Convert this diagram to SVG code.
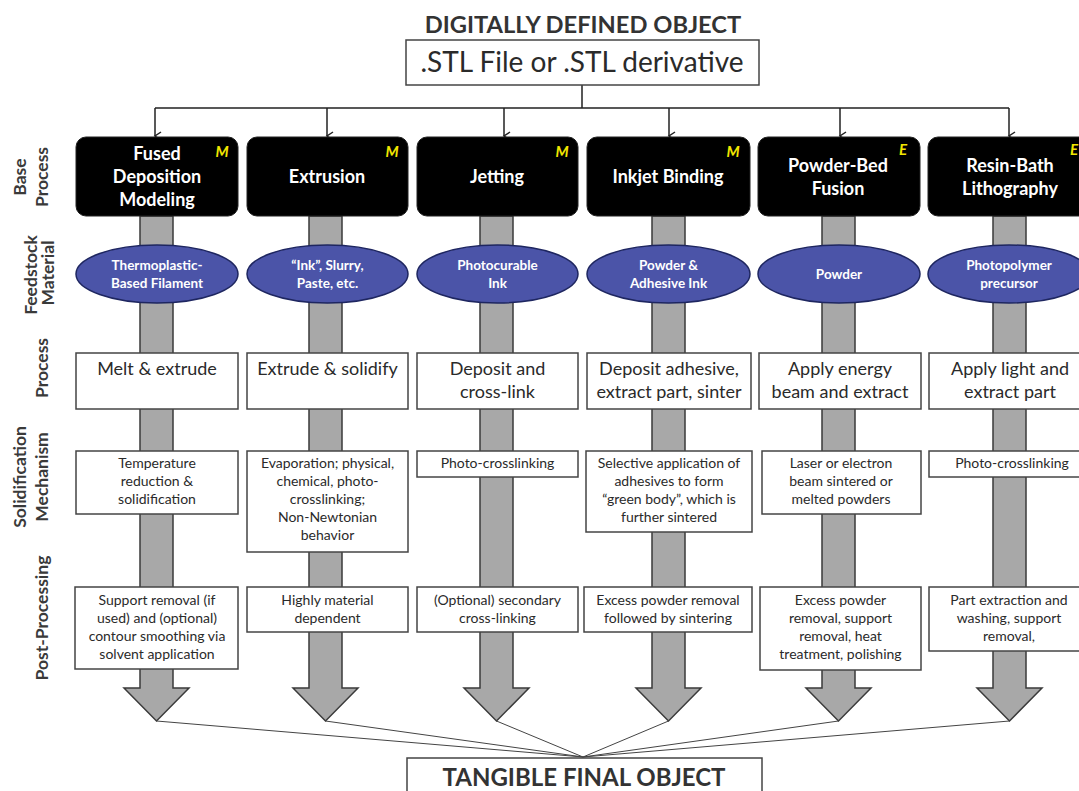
<svg xmlns="http://www.w3.org/2000/svg" width="1079" height="791" viewBox="0 0 1079 791">
<style>
text{font-family:Lato,"Open Sans",sans-serif;text-anchor:middle}
.title{font-weight:bold;font-size:23.7px;fill:#333}
.stl{font-size:28px;fill:#2a2a2a}
.base rect{fill:#000;stroke:#222;stroke-width:1}
.base text{fill:#fff;font-weight:bold;font-size:18px}
.base text.tag{fill:#f2e600;font-style:italic;font-size:15px}
.feed ellipse{fill:#4b54a8;stroke:#1e2660;stroke-width:1.5}
.feed text{fill:#fff;font-weight:bold;font-size:13.5px}
.box rect{fill:#fff;stroke:#444;stroke-width:1.5}
.proc text{fill:#2a2a2a;font-size:18px}
.small text{fill:#2a2a2a;font-size:14px}
.row{fill:#3a3a3a;font-weight:bold;font-size:17.5px}
.shaft{fill:#a8a8a8;stroke:#3a3a3a;stroke-width:1.5}
.thin{stroke:#444;stroke-width:1;fill:none}
.conn{stroke:#222;stroke-width:1.5;fill:none}
</style>
<defs>
<marker id="ah" markerWidth="10" markerHeight="10" refX="5" refY="8" orient="auto-start-reverse" markerUnits="userSpaceOnUse" viewBox="0 0 10 10">
<path d="M1,2 L5,8 L9,2" fill="none" stroke="#222" stroke-width="1.5"/>
</marker>
</defs>
<rect width="1079" height="791" fill="#fff"/>

<g id="row-labels">
<text class="row" transform="translate(26,177) rotate(-90)">Base</text>
<text class="row" transform="translate(48,177) rotate(-90)">Process</text>
<text class="row" transform="translate(37,275) rotate(-90)">Feedstock</text>
<text class="row" transform="translate(54,273) rotate(-90)">Material</text>
<text class="row" transform="translate(48,368) rotate(-90)">Process</text>
<text class="row" transform="translate(26,477) rotate(-90)">Solidification</text>
<text class="row" transform="translate(48,477) rotate(-90)">Mechanism</text>
<text class="row" transform="translate(48,618) rotate(-90)">Post-Processing</text>
</g>

<g id="connectors">
<path class="conn" d="M582,85 V108 M155,108 H1009"/>
<path class="conn" marker-end="url(#ah)" d="M155,108 V136"/>
<path class="conn" marker-end="url(#ah)" d="M327,108 V136"/>
<path class="conn" marker-end="url(#ah)" d="M504,108 V136"/>
<path class="conn" marker-end="url(#ah)" d="M669,108 V136"/>
<path class="conn" marker-end="url(#ah)" d="M840,108 V136"/>
<path class="conn" marker-end="url(#ah)" d="M1009,108 V136"/>
<polygon class="shaft" points="140,216 173,216 173,688 189,688 156.5,721 124,688 140,688"/>
<polygon class="shaft" points="309,216 342,216 342,688 358,688 325.5,721 293,688 309,688"/>
<polygon class="shaft" points="480,216 513,216 513,688 529,688 496.5,721 464,688 480,688"/>
<polygon class="shaft" points="652,216 685,216 685,688 701,688 668.5,721 636,688 652,688"/>
<polygon class="shaft" points="822,216 855,216 855,688 871,688 838.5,721 806,688 822,688"/>
<polygon class="shaft" points="993,216 1026,216 1026,688 1042,688 1009.5,721 977,688 993,688"/>
<path class="thin" d="M156.5,721 L583,757 M325.5,721 L583,757 M496.5,721 L583,757 M668.5,721 L583,757 M838.5,721 L583,757 M1009.5,721 L583,757"/>
</g>

<g id="digital-object">
<text class="title" x="583" y="33">DIGITALLY DEFINED OBJECT</text>
</g>
<g id="stl-file" class="box">
<rect x="406" y="40" width="353" height="45"/>
<text class="stl" x="582" y="72">.STL File or .STL derivative</text>
</g>

<!-- Base process -->
<g id="base-fdm" class="base">
<rect x="76" y="137" width="162" height="79" rx="10"/>
<text x="157" y="160">Fused</text><text x="157" y="183">Deposition</text><text x="157" y="206">Modeling</text>
<text class="tag" x="222" y="157">M</text>
</g>
<g id="base-extrusion" class="base">
<rect x="247" y="137" width="161" height="79" rx="10"/>
<text x="327" y="183">Extrusion</text>
<text class="tag" x="392" y="157">M</text>
</g>
<g id="base-jetting" class="base">
<rect x="417" y="137" width="161" height="79" rx="10"/>
<text x="497" y="183">Jetting</text>
<text class="tag" x="562" y="157">M</text>
</g>
<g id="base-inkjet" class="base">
<rect x="587" y="137" width="163" height="79" rx="10"/>
<text x="668" y="183">Inkjet Binding</text>
<text class="tag" x="733" y="157">M</text>
</g>
<g id="base-pbf" class="base">
<rect x="758" y="137" width="162" height="79" rx="10"/>
<text x="838" y="172">Powder-Bed</text><text x="838" y="195">Fusion</text>
<text class="tag" x="903" y="155">E</text>
</g>
<g id="base-resin" class="base">
<rect x="928" y="137" width="170" height="79" rx="10"/>
<text x="1010" y="172">Resin-Bath</text><text x="1010" y="195">Lithography</text>
<text class="tag" x="1074" y="155">E</text>
</g>

<!-- Feedstock -->
<g id="feed-fdm" class="feed"><ellipse cx="157" cy="274" rx="81" ry="29"/><text x="157" y="270">Thermoplastic-</text><text x="157" y="288">Based Filament</text></g>
<g id="feed-extrusion" class="feed"><ellipse cx="327.5" cy="274" rx="80.5" ry="29"/><text x="327.5" y="270">“Ink”, Slurry,</text><text x="327.5" y="288">Paste, etc.</text></g>
<g id="feed-jetting" class="feed"><ellipse cx="497.5" cy="274" rx="80.5" ry="29"/><text x="497.5" y="270">Photocurable</text><text x="497.5" y="288">Ink</text></g>
<g id="feed-inkjet" class="feed"><ellipse cx="668.5" cy="274" rx="81.5" ry="29"/><text x="668.5" y="270">Powder &amp;</text><text x="668.5" y="288">Adhesive Ink</text></g>
<g id="feed-pbf" class="feed"><ellipse cx="839" cy="274" rx="81" ry="29"/><text x="839" y="279">Powder</text></g>
<g id="feed-resin" class="feed"><ellipse cx="1009" cy="274" rx="81" ry="29"/><text x="1009" y="270">Photopolymer</text><text x="1009" y="288">precursor</text></g>

<!-- Process -->
<g id="proc-fdm" class="box proc"><rect x="76" y="353" width="162" height="56"/><text x="157" y="375">Melt &amp; extrude</text></g>
<g id="proc-extrusion" class="box proc"><rect x="247" y="353" width="161" height="56"/><text x="327.5" y="375">Extrude &amp; solidify</text></g>
<g id="proc-jetting" class="box proc"><rect x="417" y="353" width="161" height="56"/><text x="497.5" y="375">Deposit and</text><text x="497.5" y="398">cross-link</text></g>
<g id="proc-inkjet" class="box proc"><rect x="587" y="353" width="164" height="56"/><text x="669" y="375">Deposit adhesive,</text><text x="669" y="398">extract part, sinter</text></g>
<g id="proc-pbf" class="box proc"><rect x="759" y="353" width="162" height="56"/><text x="840" y="375">Apply energy</text><text x="840" y="398">beam and extract</text></g>
<g id="proc-resin" class="box proc"><rect x="929" y="353" width="170" height="56"/><text x="1010" y="375">Apply light and</text><text x="1010" y="398">extract part</text></g>

<!-- Solidification -->
<g id="solid-fdm" class="box small"><rect x="76" y="451" width="162" height="63"/><text x="157" y="468">Temperature</text><text x="157" y="486">reduction &amp;</text><text x="157" y="504">solidification</text></g>
<g id="solid-extrusion" class="box small"><rect x="247" y="451" width="161" height="101"/><text x="327.5" y="468">Evaporation; physical,</text><text x="327.5" y="486">chemical, photo-</text><text x="327.5" y="504">crosslinking;</text><text x="327.5" y="522">Non-Newtonian</text><text x="327.5" y="540">behavior</text></g>
<g id="solid-jetting" class="box small"><rect x="417" y="451" width="161" height="26"/><text x="497.5" y="468">Photo-crosslinking</text></g>
<g id="solid-inkjet" class="box small"><rect x="586" y="451" width="166" height="81"/><text x="669" y="468">Selective application of</text><text x="669" y="486">adhesives to form</text><text x="669" y="504">“green body”, which is</text><text x="669" y="522">further sintered</text></g>
<g id="solid-pbf" class="box small"><rect x="762" y="451" width="159" height="63"/><text x="841" y="468">Laser or electron</text><text x="841" y="486">beam sintered or</text><text x="841" y="504">melted powders</text></g>
<g id="solid-resin" class="box small"><rect x="929" y="451" width="170" height="26"/><text x="1012" y="468">Photo-crosslinking</text></g>

<!-- Post-processing -->
<g id="post-fdm" class="box small"><rect x="75" y="587" width="163" height="82"/><text x="157" y="605">Support removal (if</text><text x="157" y="623">used) and (optional)</text><text x="157" y="641">contour smoothing via</text><text x="157" y="659">solvent application</text></g>
<g id="post-extrusion" class="box small"><rect x="247" y="587" width="161" height="45"/><text x="327.5" y="605">Highly material</text><text x="327.5" y="623">dependent</text></g>
<g id="post-jetting" class="box small"><rect x="417" y="587" width="161" height="45"/><text x="497.5" y="605">(Optional) secondary</text><text x="497.5" y="623">cross-linking</text></g>
<g id="post-inkjet" class="box small"><rect x="584" y="587" width="168" height="45"/><text x="668" y="605">Excess powder removal</text><text x="668" y="623">followed by sintering</text></g>
<g id="post-pbf" class="box small"><rect x="760" y="587" width="161" height="83"/><text x="840.5" y="605">Excess powder</text><text x="840.5" y="623">removal, support</text><text x="840.5" y="641">removal, heat</text><text x="840.5" y="659">treatment, polishing</text></g>
<g id="post-resin" class="box small"><rect x="929" y="587" width="170" height="64"/><text x="1009" y="605">Part extraction and</text><text x="1009" y="623">washing, support</text><text x="1009" y="641">removal,</text></g>

<g id="tangible-object" class="box">
<rect x="407" y="758" width="355" height="45"/>
<text class="title" x="584" y="786" style="font-size:24px">TANGIBLE FINAL OBJECT</text>
</g>
</svg>
